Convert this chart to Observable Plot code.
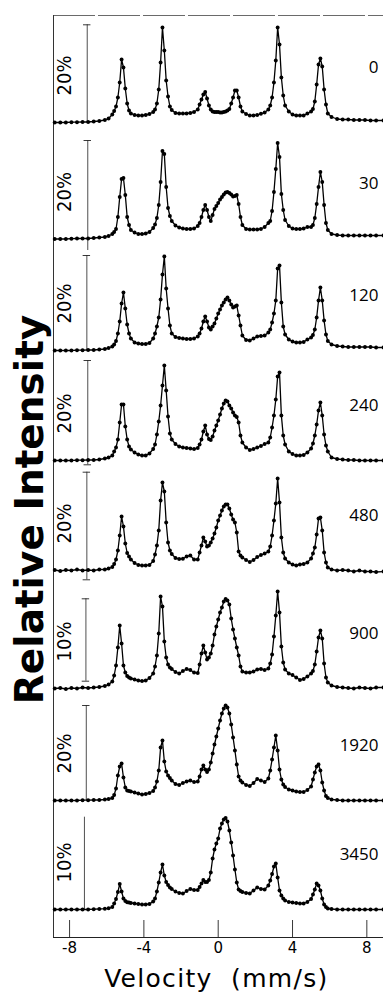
<!DOCTYPE html>
<html>
<head>
<meta charset="utf-8">
<script src="https://cdn.jsdelivr.net/npm/d3@7"></script>
<script src="https://cdn.jsdelivr.net/npm/@observablehq/plot@0.6"></script>
<style>
  html, body { margin: 0; padding: 0; background: #fff; }
  #chart svg { display: block; }
</style>
</head>
<body>
<div id="chart"></div>
<script>
// ---- data ----
const velocity = [
  -8.8, -8.5, -8.2, -7.9, -7.6, -7.3, -7.0, -6.7, -6.4, -6.1, -5.9, -5.7,
  -5.6, -5.5, -5.4, -5.3, -5.2, -5.1, -5.0, -4.9, -4.8, -4.7,
  -4.5, -4.3, -4.1, -3.9, -3.7, -3.5,
  -3.4, -3.3, -3.2, -3.1, -3.0, -2.9, -2.8, -2.7, -2.6, -2.5,
  -2.3, -2.1, -1.9, -1.7, -1.5, -1.3, -1.1,
  -1.0, -0.9, -0.8, -0.7, -0.6, -0.5, -0.4, -0.3, -0.2, -0.1, 0.0, 0.1, 0.2, 0.3, 0.4, 0.5, 0.6, 0.7, 0.8, 0.9, 1.0, 1.1, 1.2, 1.3,
  1.5, 1.7, 1.9, 2.1, 2.3, 2.5, 2.7,
  2.8, 2.9, 3.0, 3.1, 3.2, 3.3, 3.4, 3.5, 3.6,
  3.8, 4.0, 4.2, 4.4, 4.6, 4.8,
  5.0, 5.1, 5.2, 5.3, 5.4, 5.5, 5.6, 5.7, 5.8, 5.9,
  6.1, 6.4, 6.7, 7.0, 7.3, 7.6, 7.9, 8.2, 8.5, 8.9
];

const panels = ["0", "30", "120", "240", "480", "900", "1920", "3450"];
const scaleLabels = ["20%", "20%", "20%", "20%", "20%", "10%", "20%", "10%"];

const t0 = [
  0, 0, 0, 0.3, 0.3, 0.5, 0.5, 1, 1.5, 2.5, 4, 8,
  11.5, 16, 25, 40, 63, 55, 34, 19, 12, 9,
  7.5, 7, 7, 7.5, 8.5, 10.5,
  13, 19, 33, 60, 95, 72, 42, 26, 16, 12.5,
  9.5, 9, 9, 9, 9.5, 10.5, 13,
  18, 23, 28, 30.5, 24, 17, 13, 11, 10.5, 10.5, 10.5, 10, 10, 10.5, 11, 12, 13.5, 19, 25, 32, 32, 25, 16, 11,
  8.5, 7, 7, 7.5, 8.7, 10, 13,
  17, 25, 40, 62, 95, 78, 45, 27, 17,
  11, 8, 7, 7, 7, 9,
  11, 13.5, 21, 38, 58, 64, 56, 33, 18, 9,
  5.5, 3.5, 3, 3, 2.5, 2.5, 2.5, 2, 2, 2
];
const t30 = [
  0, 0, 0, 0.3, 0.5, 0.5, 0.5, 1, 1.5, 2, 3, 5,
  7, 10, 22, 42, 60, 61, 44, 22, 14, 9,
  6.5, 5, 5, 5.5, 7, 11,
  14.5, 21, 34, 57, 88, 85, 52, 31, 23, 18,
  13.5, 11.5, 10.5, 10, 10, 10.5, 13,
  16, 22, 29, 34, 29, 22, 18, 24, 30, 33, 36, 39.5, 42, 44.5, 46.5, 47, 46, 44.5, 42.5, 43, 44, 35, 22, 14,
  10, 9.5, 9.5, 9.5, 10, 12, 16,
  18, 28, 47, 70, 96, 82, 45, 29, 19,
  13, 10.5, 10, 10, 10.5, 12,
  12, 14, 21, 35, 52, 67, 57, 34, 16, 9,
  5, 4, 3.5, 3.5, 3.5, 3.5, 3.5, 3.5, 3.5, 3.5
];
const t120 = [
  0, 0, 0, 0, 0.3, 0.3, 0.5, 0.5, 1, 1.5, 2.5, 4,
  6, 9.5, 17, 29, 47, 58, 42, 26, 17, 12,
  8, 7, 6.5, 6.5, 7.5, 12,
  17, 24, 33, 51, 76, 94, 62, 42, 25, 17,
  13.5, 12.5, 12, 11.5, 11.5, 12, 14,
  17, 22, 29, 34, 29, 23, 21, 24, 27, 32, 37, 41, 45, 48, 51, 53, 50, 46, 43, 44, 45, 35, 25, 15,
  10.5, 10, 12, 14, 14.5, 15, 18,
  21, 28, 37, 50, 82, 85, 48, 24, 16,
  11, 9, 8, 8, 8.5, 11,
  13, 15.5, 21, 33, 50, 63, 50, 30, 16, 9.5,
  6, 4.5, 4, 3.5, 3.5, 3.5, 3.5, 3.5, 3, 3
];
const t240 = [
  0, 0, 0, 0, 0.3, 0.3, 0.5, 0.5, 1, 2, 3, 5,
  9, 13, 21, 38, 56, 56, 34, 21, 14, 11,
  8, 6, 5, 5, 7, 11.5,
  16, 26, 39, 55, 75, 95, 70, 44, 27, 21,
  16.5, 14, 13, 12.5, 12, 11.5, 12.5,
  16, 21, 29, 35, 26, 21.5, 20.5, 24, 30, 35, 40, 46, 52, 57, 60, 59, 55, 52, 48, 45, 43.5, 38, 25, 18,
  13, 10.5, 11.5, 13, 14.5, 16.5, 18,
  23, 33, 45, 61, 84, 88, 45, 25, 16,
  9, 6.5, 5, 5, 5.5, 8,
  12, 17, 25, 36, 50, 58, 45, 26, 15, 9,
  3, 1.5, 1, 0.5, 0.5, 0, 0, 0, 0, 0
];
const t480 = [
  0.5, -0.5, 0.5, 0, 1, 0, 0.5, 0, 1, 1, 2, 3.5,
  6.5, 11, 20, 35, 54, 44, 27, 17.5, 14, 11,
  7.5, 5.5, 5, 5, 5.5, 9.5,
  16, 25, 40, 70, 88, 79, 48, 28, 20, 16.5,
  12.5, 11.5, 11.7, 14, 15, 11, 11,
  18, 25, 33, 29, 24, 25, 28, 32, 37, 43, 50, 55, 60, 64, 66, 66, 62, 56, 51, 48, 38, 19, 15, 13,
  10.5, 8.5, 10.5, 13.5, 15.5, 17, 19,
  24, 35, 50, 67, 92, 68, 33, 18, 12,
  8, 6, 5, 6, 6.5, 8,
  12, 17, 23, 36, 52, 53, 40, 18, 8, 3,
  1, 0, 0.5, 0, -1, 0, -1, -1, -1.5, -1
];
const t900 = [
  0, 0.5, -0.5, 0.5, 0, 1, 0.5, 1, 1.5, 2.5, 4, 7,
  13, 23, 41, 63, 45, 23, 16, 12.5, 11, 10,
  9, 8, 7.5, 8, 10.5, 15,
  22, 33, 55, 92, 82, 47, 31, 24, 21, 19.5,
  16.5, 15, 17.5, 19.5, 18.5, 16, 15.5,
  24, 35, 43, 36, 29, 31, 35, 43, 54, 62, 69, 76, 81, 87, 89.5, 88, 84, 70, 59, 50, 41, 33, 22, 17,
  16, 16, 17, 19, 19.5, 18.5, 20,
  25, 34, 52, 73, 97, 76, 42, 26, 19,
  15, 13.5, 11, 8.5, 9.5, 12,
  15, 17.5, 24, 37, 51, 58, 50, 25, 11, 6,
  3, 1.5, 1, 0.5, 0, 1, 0.5, 0, 1, 1
];
const t1920 = [
  0, 0, 0, 0, 0, 0.3, 0.3, 0.5, 0.5, 1, 1.5, 2.5,
  5.5, 12, 25, 34, 37, 23, 13, 10, 9.5, 9,
  8, 7, 6, 6.5, 7.5, 9.5,
  13, 19, 30, 53, 60, 39, 29, 25, 22.5, 20,
  16.5, 15.5, 17.5, 19, 20, 18.5, 19,
  24, 31, 35, 31, 28.5, 31, 38, 47, 56, 64, 72, 80, 87, 92, 95, 93, 87, 76, 63, 50, 36, 24, 20, 18,
  15.5, 14.5, 17.5, 21.5, 20, 18.5, 22,
  30, 41, 53, 65, 50, 31, 21, 16, 13.5,
  11, 10, 9, 8.5, 8.5, 10.5,
  14, 21, 28, 34, 36, 30, 18, 10, 4.5, 2.5,
  1, 0.5, 0, 0, 0, 0, 0, 0, 0, 0
];
const t3450 = [
  0, 0, 0, 0, 0, 0, 0, 0.3, 0.5, 0.8, 1.2, 2.5,
  6, 10.5, 17.5, 25.5, 18, 11, 8.5, 7.3, 7, 6.5,
  6, 5.5, 5, 5, 5.5, 8,
  11, 18, 27, 37, 45, 34, 27.5, 24.5, 22, 20.5,
  18, 16.5, 16, 18.5, 20.5, 19.5, 19.5,
  22.5, 26, 29.5, 27.5, 27.5, 29.5, 37, 51, 60, 66, 71, 81, 86, 90, 91.5, 88, 79, 67, 54, 40, 27, 20, 18.5, 17.5,
  16.5, 16, 19, 22, 20.5, 20, 24,
  29, 35.5, 43, 46, 32, 19, 14, 11, 9,
  7.5, 7, 6.5, 6, 6, 7.5,
  10.5, 15, 20, 26, 24, 19, 11, 5, 2.5, 1,
  0.5, 0, 0, 0, 0, 0, 0, 0, 0, 0
];
const series = [t0, t30, t120, t240, t480, t900, t1920, t3450];

// vertical offset of each spectrum (stacked plot), intensity units
const baselines = [815, 698.5, 587, 477, 367, 249, 137, 28];
// scale bars (intensity units relative to each spectrum's baseline)
const barTop = [97.7, 98.5, 95, 100, 98.3, 89.7, 95, 92.3];
const barBottom = [0, -11.5, 0, -4.3, -9.3, 7.3, 0, 0];
const barVelocity = [-7.05, -7.02, -7.07, -7.02, -7.07, -7.12, -7.1, -7.2];
const topCap = [true, true, true, true, true, true, true, false];
const bottomCap = [false, false, false, true, true, true, false, false];

const xTicks = [-8, -4, 0, 4, 8];

// ---- build ----
const rows = panels.flatMap((p, i) =>
  velocity.map((v, j) => ({panel: p, v, y: baselines[i] + series[i][j]}))
);
const bars = panels.map((p, i) => ({
  panel: p, label: scaleLabels[i], v: barVelocity[i],
  y1: baselines[i] + barBottom[i], y2: baselines[i] + barTop[i], base: baselines[i]
}));
const caps = [
  ...bars.filter((b, i) => topCap[i]).map(b => ({v: b.v, y: b.y2})),
  ...bars.filter((b, i) => bottomCap[i]).map(b => ({v: b.v, y: b.y1}))
];

const sans = "'Open Sans', 'Noto Sans', 'DejaVu Sans', sans-serif";
const dejavu = "'DejaVu Sans', Verdana, sans-serif";
const narrow = "'Liberation Sans Narrow', 'DejaVu Sans Condensed', 'Open Sans', sans-serif";

const chart = Plot.plot({
  width: 383,
  height: 992,
  marginLeft: 53,
  marginRight: 0,
  marginTop: 15,
  marginBottom: 55,
  x: {domain: [-8.865, 8.897], axis: null},
  y: {domain: [0, 922], axis: null},
  style: {fontFamily: sans, background: "white", color: "black"},
  marks: [
    // frame
    Plot.ruleY([922], {stroke: "#444", strokeWidth: 0.8, strokeDasharray: "42,3"}),
    Plot.ruleX([-8.865], {stroke: "#333", strokeWidth: 1}),
    Plot.ruleY([0], {stroke: "#222", strokeWidth: 1}),
    // inward x ticks
    Plot.ruleX(xTicks, {x: d => d, y1: 0, y2: 17, stroke: "#222", strokeWidth: 0.9}),
    Plot.text(xTicks, {x: d => d, y: -11, text: d => String(d), fontSize: 15, fontFamily: dejavu}),
    // scale bars
    Plot.ruleX(bars, {x: "v", y1: "y1", y2: "y2", stroke: "#222", strokeWidth: 0.8}),
    Plot.ruleY(caps, {x1: d => d.v - 0.2, x2: d => d.v + 0.2, y: "y", stroke: "#222", strokeWidth: 0.9}),
    Plot.text(bars, {x: -8.25, y: d => d.base + 47, text: "label", rotate: -90, fontSize: 20, fontFamily: narrow}),
    // spectra
    Plot.line(rows, {x: "v", y: "y", z: "panel", stroke: "black", strokeWidth: 1.3}),
    Plot.dot(rows, {x: "v", y: "y", r: 1.95, fill: "black", stroke: "none"}),
    // panel labels
    Plot.text(bars, {x: 8.63, y: d => d.base + 55, text: "panel", textAnchor: "end", fontSize: 17, fontFamily: sans}),
    // axis titles
    Plot.text(["Relative Intensity"], {x: -10.11, y: 428, text: d => d, rotate: -90, fontSize: 39, fontWeight: "bold", fontFamily: dejavu}),
    Plot.text(["Velocity  (mm/s)"], {x: -0.1, y: -41, text: d => d, fontSize: 25, fontFamily: dejavu})
  ]
});
d3.select(chart).selectAll("text")
  .filter(function () { return this.textContent.startsWith("Velocity"); })
  .style("letter-spacing", "1.3px");
document.getElementById("chart").appendChild(chart);
</script>
</body>
</html>
